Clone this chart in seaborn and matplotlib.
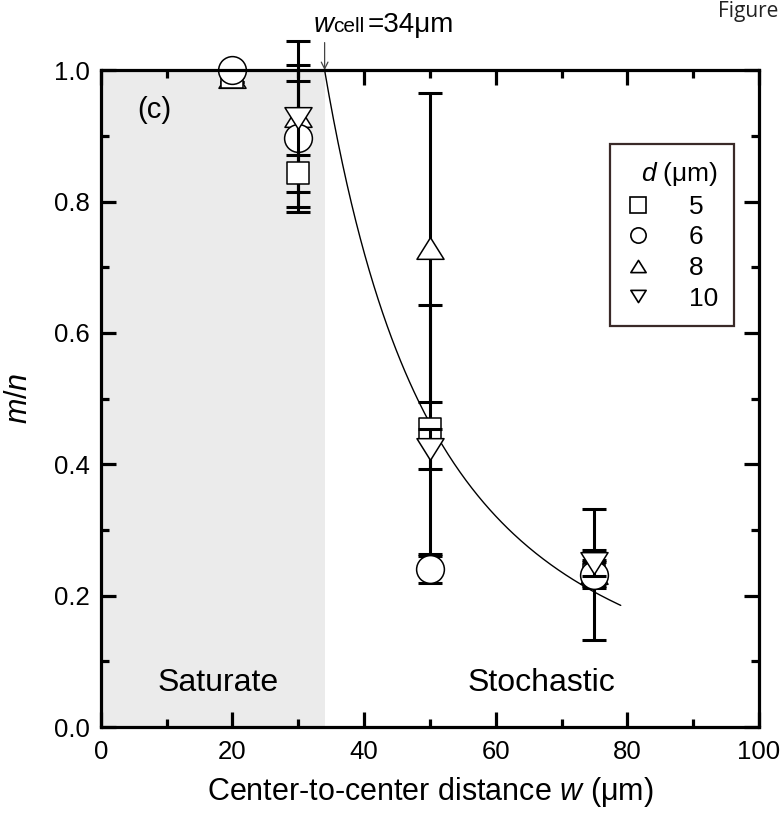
import numpy as np
import pandas as pd
import matplotlib
matplotlib.use("Agg")
import matplotlib.pyplot as plt
from matplotlib.path import Path
from matplotlib.lines import Line2D
import seaborn as sns

# Measured fraction m/n versus centre-to-centre distance w for four diameters d
d_values = [5, 6, 8, 10]
w_positions = [20, 30, 50, 75]
ratio_d5 = [0.99, 0.844, 0.453, 0.232]
ratio_d6 = [1.00, 0.896, 0.240, 0.232]
ratio_d8 = [0.99, 0.930, 0.730, 0.235]
ratio_d10 = [np.nan, 0.927, 0.423, 0.250]
err_d5 = [0.008, 0.052, 0.190, 0.02]
err_d6 = [0.010, 0.112, 0.020, 0.100]
err_d8 = [0.008, 0.115, 0.235, 0.02]
err_d10 = [np.nan, 0.056, 0.030, 0.02]

w_cell = 34  # critical cell width (µm)

sns.set_theme(style="ticks")
plt.rcParams["font.family"] = ["Liberation Sans", "DejaVu Sans"]
plt.rcParams["mathtext.fontset"] = "custom"
plt.rcParams["mathtext.it"] = "Liberation Sans:italic"
plt.rcParams["mathtext.rm"] = "Liberation Sans"
for key in ["text.color", "axes.labelcolor", "xtick.color", "ytick.color",
            "axes.edgecolor"]:
    plt.rcParams[key] = "black"

rows = []
for d, ys, es in [(5, ratio_d5, err_d5), (6, ratio_d6, err_d6),
                  (8, ratio_d8, err_d8), (10, ratio_d10, err_d10)]:
    for w, y, e in zip(w_positions, ys, es):
        rows.append({"d": d, "w": w, "ratio": y, "err": e})
df = pd.DataFrame(rows).dropna()

# flattened triangles (wider than tall)
tri_up = Path([(-1, -0.8), (1, -0.8), (0, 0.8), (-1, -0.8)],
              [Path.MOVETO, Path.LINETO, Path.LINETO, Path.CLOSEPOLY])
tri_dn = Path([(-1, 0.8), (1, 0.8), (0, -0.8), (-1, 0.8)],
              [Path.MOVETO, Path.LINETO, Path.LINETO, Path.CLOSEPOLY])

style = {
    5: dict(marker="s", size=15.8, zbar=2, zmark=4),
    6: dict(marker="o", size=20.0, zbar=2, zmark=5),
    8: dict(marker=tri_up, size=19.5, zbar=2, zmark=3),
    10: dict(marker=tri_dn, size=19.5, zbar=6, zmark=7),
}

fig = plt.figure(figsize=(7.82, 8.16), dpi=100)
ax = fig.add_axes([0.129, 0.109, 0.8415, 0.805])

# shaded saturation region
ax.axvspan(0, w_cell, color="#ebebeb", zorder=0, lw=0)

for d in d_values:
    sub = df[df["d"] == d]
    st = style[d]
    ax.errorbar(sub["w"], sub["ratio"], yerr=sub["err"], fmt="none",
                ecolor="black", elinewidth=2.2, capsize=8.5, capthick=2.2,
                clip_on=False, zorder=st["zbar"])
    sns.scatterplot(data=sub, x="w", y="ratio", ax=ax,
                    marker=st["marker"], s=st["size"] ** 2,
                    facecolor="white", edgecolor="black", linewidth=1.1,
                    clip_on=False, zorder=st["zmark"], legend=False)

# model curve m/n = (w_cell / w)^2
w_model = np.linspace(w_cell, 79, 200)
ax.plot(w_model, (w_cell / w_model) ** 2, color="black", lw=1.0, zorder=1.5,
        clip_on=False)

ax.annotate("", xy=(w_cell, 1.0), xytext=(w_cell, 1.042),
            arrowprops=dict(arrowstyle="->", color="#444444", lw=0.9,
                            shrinkA=0, shrinkB=0),
            annotation_clip=False)
ax.text(32.2, 1.058, r"$w$", fontsize=20, ha="left", va="baseline",
        clip_on=False)
ax.text(35.3, 1.058, "cell", fontsize=15, ha="left", va="baseline",
        clip_on=False)
ax.text(40.5, 1.058, "=34\u03bcm", fontsize=20, ha="left",
        va="baseline", clip_on=False)
fig.text(0.918, 0.999, "Figure", fontsize=15, ha="left", va="top",
         family="Open Sans", color="#222222")

ax.text(5.5, 0.94, "(c)", fontsize=21, ha="left", va="center")
ax.text(17.8, 0.067, "Saturate", fontsize=23, ha="center", va="center")
ax.text(67, 0.067, "Stochastic", fontsize=23, ha="center", va="center")

ax.set_xlim(0, 100)
ax.set_ylim(0, 1.0)
ax.set_xticks([0, 20, 40, 60, 80, 100])
ax.set_xticks([10, 30, 50, 70, 90], minor=True)
ax.set_yticks([0.0, 0.2, 0.4, 0.6, 0.8, 1.0])
ax.set_yticks([0.1, 0.3, 0.5, 0.7, 0.9], minor=True)
ax.set_yticklabels(["0.0", "0.2", "0.4", "0.6", "0.8", "1.0"])

ax.set_xlabel("Center-to-center distance $w$ (\u03bcm)", fontsize=22,
              labelpad=8)
ax.set_ylabel("$m/n$", fontsize=22, labelpad=14)

for sp in ax.spines.values():
    sp.set_linewidth(2.3)
    sp.set_color("black")
    sp.set_zorder(10)
ax.tick_params(which="both", direction="in", top=True, right=True,
               width=2.3, color="black", labelsize=18.5, labelcolor="black")
ax.tick_params(which="major", length=10.5)
ax.tick_params(which="minor", length=5.5)
ax.tick_params(axis="x", pad=9)
ax.tick_params(axis="y", pad=8)

handles = []
for d in d_values:
    handles.append(Line2D([], [], linestyle="none", marker=style[d]["marker"],
                          markersize=11, markerfacecolor="white",
                          markeredgecolor="black", markeredgewidth=1.2,
                          label=str(d)))
leg = ax.legend(handles=handles, title="$d$ (\u03bcm)", loc="upper left",
                bbox_to_anchor=(0.7736, 0.887), fontsize=19, title_fontsize=19,
                frameon=True, fancybox=False, edgecolor="#3a2a28",
                borderpad=0.6, labelspacing=0.25, handletextpad=1.5,
                handlelength=0.9, borderaxespad=0)
leg.get_frame().set_linewidth(1.6)
leg.get_frame().set_facecolor("white")
leg.get_frame().set_alpha(1)
leg._legend_box.align = "right"
leg.set_zorder(12)

fig.savefig("out.png", dpi=100)
